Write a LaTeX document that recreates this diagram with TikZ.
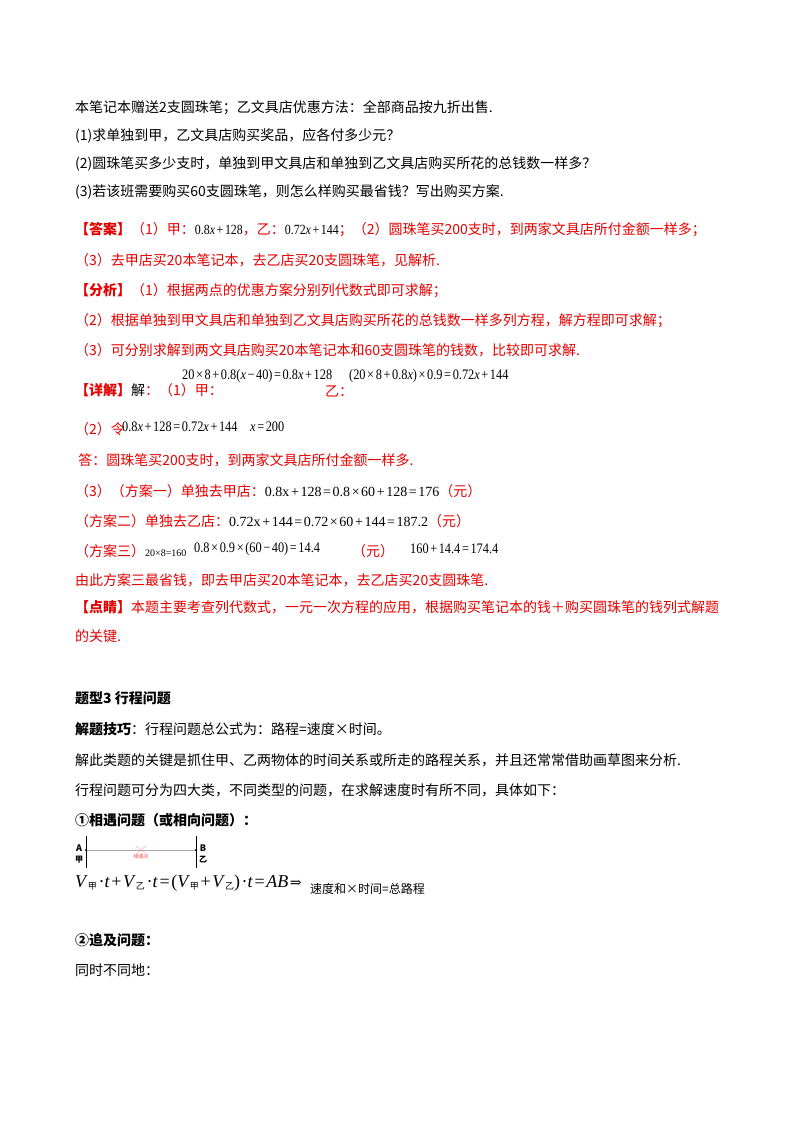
\documentclass[tikz,border=0pt]{standalone}
\usepackage{fontspec}
\setmainfont{Liberation Serif}
\newfontfamily\cjk{Noto Sans CJK SC}
\newfontfamily\dvs{DejaVu Serif}
\newfontfamily\mth[FakeStretch=0.85]{Liberation Serif}
\newcommand{\vx}{\textit{x}}
\newcommand{\gp}{\hspace{1.6pt}}
\newcommand{\vsub}[1]{\raisebox{-0.3ex}{\cjk\fontsize{9}{10}\selectfont\itshape #1}}
\begin{document}
\begin{tikzpicture}[x=1pt,y=-1pt,
  t/.style={anchor=west,inner sep=0pt,font=\fontsize{14}{16}\selectfont\cjk},
  r/.style={t,text=red!90!black},
  m/.style={anchor=west,inner sep=0pt,font=\fontsize{14.5}{16}\selectfont\mth}]
\useasboundingbox[fill=white] (0,0) rectangle (800,1132);
\node[t] (l1) at (75,108) {本笔记本赠送2支圆珠笔；乙文具店优惠方法：全部商品按九折出售.};
\node[t] (l2) at (75,136) {(1)求单独到甲，乙文具店购买奖品，应各付多少元？};
\node[t] (l3) at (75,164) {(2)圆珠笔买多少支时，单独到甲文具店和单独到乙文具店购买所花的总钱数一样多？};
\node[t] (l4) at (75,192) {(3)若该班需要购买60支圆珠笔，则怎么样购买最省钱？写出购买方案.};
\node[r] (l5) at (75,230) {\textbf{【答案】}（1）甲：\textcolor{black}{\mth 0.8\vx\gp+\gp128}，乙：\textcolor{black}{\mth 0.72\vx\gp+\gp144}；（2）圆珠笔买200支时，到两家文具店所付金额一样多；};
\node[r] (l6) at (75,260) {（3）去甲店买20本笔记本，去乙店买20支圆珠笔，见解析.};
\node[r] (l7) at (75,291) {\textbf{【分析】}（1）根据两点的优惠方案分别列代数式即可求解；};
\node[r] (l8) at (75,321) {（2）根据单独到甲文具店和单独到乙文具店购买所花的总钱数一样多列方程，解方程即可求解；};
\node[r] (l9) at (75,350) {（3）可分别求解到两文具店购买20本笔记本和60支圆珠笔的钱数，比较即可求解.};
\node[r] (l10) at (75,390) {\textbf{【详解】}\textcolor{black}{解}：（1）甲：};
\node[m] (f1) at (182,376) {20\gp×\gp8\gp+\gp0.8(\vx\gp−\gp40)\gp=\gp0.8\vx\gp+\gp128};
\node[r] (f1b) at (325,391) {乙：};
\node[m] (f2) at (349,376) {(20\gp×\gp8\gp+\gp0.8\vx)\gp×\gp0.9\gp=\gp0.72\vx\gp+\gp144};
\node[r] (l11) at (75,429) {（2）令};
\node[m] (f3) at (122,427) {0.8\vx\gp+\gp128\gp=\gp0.72\vx\gp+\gp144};
\node[m] (f4) at (250,427) {\vx\gp=\gp200};
\node[r] (l12) at (75,460) {\ 答：圆珠笔买200支时，到两家文具店所付金额一样多.};
\node[r] (l13) at (75,491) {（3）（方案一）单独去甲店：\textcolor{black}{\rmfamily 0.8x\gp+\gp128\gp=\gp0.8\gp×\gp60\gp+\gp128\gp=\gp176}（元）};
\node[r] (l14) at (75,521) {（方案二）单独去乙店：\textcolor{black}{\rmfamily 0.72x\gp+\gp144\gp=\gp0.72\gp×\gp60\gp+\gp144\gp=\gp187.2}（元）};
\node[r] (l15) at (75,551) {（方案三）\textcolor{black}{\rmfamily\fontsize{10}{12}\selectfont 20×8=160}};
\node[m] (f5) at (194,549) {0.8\gp×\gp0.9\gp×\gp(60\gp−\gp40)\gp=\gp14.4};
\node[r] (f5b) at (352,551) {（元）};
\node[m] (f6) at (410,549) {160\gp+\gp14.4\gp=\gp174.4};
\node[r] (l16) at (75,580) {由此方案三最省钱，即去甲店买20本笔记本，去乙店买20支圆珠笔.};
\node[r] (l17) at (75,607) {\textbf{【点睛】}本题主要考查列代数式，一元一次方程的应用，根据购买笔记本的钱＋购买圆珠笔的钱列式解题};
\node[r] (l18) at (75,636) {的关键.};
\node[t] (h1) at (75,698) {\bfseries 题型3 行程问题};
\node[t] (h2) at (75,729) {\bfseries 解题技巧\mdseries ：行程问题总公式为：路程=速度×时间。};
\node[t] (h3) at (75,760) {解此类题的关键是抓住甲、乙两物体的时间关系或所走的路程关系，并且还常常借助画草图来分析.};
\node[t] (h4) at (75,790) {行程问题可分为四大类，不同类型的问题，在求解速度时有所不同，具体如下：};
\node[t] (h5) at (75,820) {\bfseries ①相遇问题（或相向问题）：};
% diagram
\coordinate (a) at (86,850); \coordinate (b) at (196,850);
\draw[gray!70,line width=0.6pt] (a) -- (b);
\draw[line width=0.6pt] (86,836) -- (86,868);
\draw[line width=0.6pt] (196,836) -- (196,868);
\fill (a) circle (1.2); \fill (b) circle (1.2);
\draw[red!40] (136,846) -- (146,854) (136,854) -- (146,846);
\node[inner sep=0pt,font=\fontsize{5}{6}\selectfont\cjk,text=red!70] (mp) at (141,857) {相遇点};
\node[inner sep=0pt,font=\fontsize{9}{9}\selectfont\cjk\bfseries] (la) at (79,848) {A};
\node[inner sep=0pt,font=\fontsize{8}{9}\selectfont\cjk\bfseries] (lj) at (79,860) {甲};
\node[inner sep=0pt,font=\fontsize{9}{9}\selectfont\cjk\bfseries] (lb) at (203,848) {B};
\node[inner sep=0pt,font=\fontsize{8}{9}\selectfont\cjk\bfseries] (ly) at (203,860) {乙};
\node[anchor=west,inner sep=0pt,font=\fontsize{18}{20}\selectfont\rmfamily] (f7) at (75,883) {\textit{V}\vsub{甲}\gp·\textit{t}\gp+\gp\textit{V}\vsub{乙}\gp·\textit{t}\gp=\gp(\textit{V}\vsub{甲}\gp+\gp\textit{V}\vsub{乙})\gp·\textit{t}\gp=\gp\textit{AB}\gp{\dvs\fontsize{14}{16}\selectfont ⇒}};
\node[t,font=\fontsize{12}{14}\selectfont\cjk] (f7b) at (310,889) {速度和×时间=总路程};
\node[t] (h6) at (75,940) {\bfseries ②追及问题：};
\node[t] (h7) at (75,970) {同时不同地：};
\end{tikzpicture}
\end{document}
